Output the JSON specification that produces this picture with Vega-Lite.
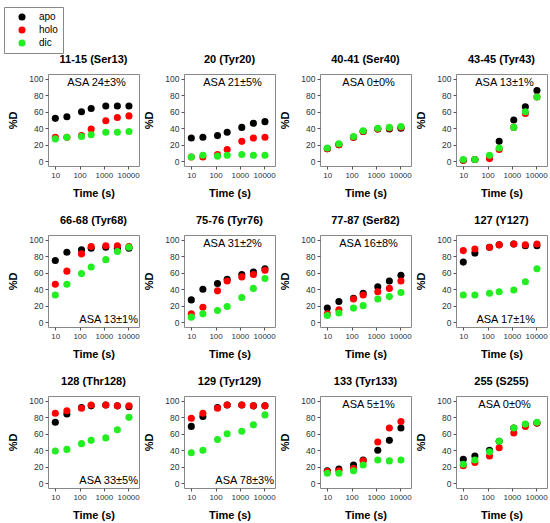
{
  "$schema": "https://vega.github.io/schema/vega-lite/v6.json",
  "background": "white",
  "padding": {"left": 3, "top": 6, "right": 5, "bottom": 3},
  "data": {
    "values": [
      {"p": "11-15 (Ser13)", "s": "apo", "t": 10, "d": 52}, {"p": "11-15 (Ser13)", "s": "apo", "t": 30, "d": 54}, {"p": "11-15 (Ser13)", "s": "apo", "t": 120, "d": 60}, {"p": "11-15 (Ser13)", "s": "apo", "t": 300, "d": 64}, {"p": "11-15 (Ser13)", "s": "apo", "t": 1200, "d": 67}, {"p": "11-15 (Ser13)", "s": "apo", "t": 3600, "d": 67}, {"p": "11-15 (Ser13)", "s": "apo", "t": 10800, "d": 67},
      {"p": "11-15 (Ser13)", "s": "holo", "t": 10, "d": 29}, {"p": "11-15 (Ser13)", "s": "holo", "t": 30, "d": 29}, {"p": "11-15 (Ser13)", "s": "holo", "t": 120, "d": 31}, {"p": "11-15 (Ser13)", "s": "holo", "t": 300, "d": 39}, {"p": "11-15 (Ser13)", "s": "holo", "t": 1200, "d": 49}, {"p": "11-15 (Ser13)", "s": "holo", "t": 3600, "d": 53}, {"p": "11-15 (Ser13)", "s": "holo", "t": 10800, "d": 55},
      {"p": "11-15 (Ser13)", "s": "dic", "t": 10, "d": 27}, {"p": "11-15 (Ser13)", "s": "dic", "t": 30, "d": 29}, {"p": "11-15 (Ser13)", "s": "dic", "t": 120, "d": 30}, {"p": "11-15 (Ser13)", "s": "dic", "t": 300, "d": 32}, {"p": "11-15 (Ser13)", "s": "dic", "t": 1200, "d": 35}, {"p": "11-15 (Ser13)", "s": "dic", "t": 3600, "d": 35}, {"p": "11-15 (Ser13)", "s": "dic", "t": 10800, "d": 36},

      {"p": "20 (Tyr20)", "s": "apo", "t": 10, "d": 28}, {"p": "20 (Tyr20)", "s": "apo", "t": 30, "d": 29}, {"p": "20 (Tyr20)", "s": "apo", "t": 120, "d": 31}, {"p": "20 (Tyr20)", "s": "apo", "t": 300, "d": 35}, {"p": "20 (Tyr20)", "s": "apo", "t": 1200, "d": 41}, {"p": "20 (Tyr20)", "s": "apo", "t": 3600, "d": 46}, {"p": "20 (Tyr20)", "s": "apo", "t": 10800, "d": 48},
      {"p": "20 (Tyr20)", "s": "holo", "t": 10, "d": 5}, {"p": "20 (Tyr20)", "s": "holo", "t": 30, "d": 5}, {"p": "20 (Tyr20)", "s": "holo", "t": 120, "d": 8}, {"p": "20 (Tyr20)", "s": "holo", "t": 300, "d": 14}, {"p": "20 (Tyr20)", "s": "holo", "t": 1200, "d": 24}, {"p": "20 (Tyr20)", "s": "holo", "t": 3600, "d": 28}, {"p": "20 (Tyr20)", "s": "holo", "t": 10800, "d": 29},
      {"p": "20 (Tyr20)", "s": "dic", "t": 10, "d": 5}, {"p": "20 (Tyr20)", "s": "dic", "t": 30, "d": 7}, {"p": "20 (Tyr20)", "s": "dic", "t": 120, "d": 6}, {"p": "20 (Tyr20)", "s": "dic", "t": 300, "d": 7}, {"p": "20 (Tyr20)", "s": "dic", "t": 1200, "d": 8}, {"p": "20 (Tyr20)", "s": "dic", "t": 3600, "d": 7}, {"p": "20 (Tyr20)", "s": "dic", "t": 10800, "d": 7},

      {"p": "40-41 (Ser40)", "s": "apo", "t": 10, "d": 15}, {"p": "40-41 (Ser40)", "s": "apo", "t": 30, "d": 20}, {"p": "40-41 (Ser40)", "s": "apo", "t": 120, "d": 29}, {"p": "40-41 (Ser40)", "s": "apo", "t": 300, "d": 36}, {"p": "40-41 (Ser40)", "s": "apo", "t": 1200, "d": 39}, {"p": "40-41 (Ser40)", "s": "apo", "t": 3600, "d": 39}, {"p": "40-41 (Ser40)", "s": "apo", "t": 10800, "d": 40},
      {"p": "40-41 (Ser40)", "s": "holo", "t": 10, "d": 15}, {"p": "40-41 (Ser40)", "s": "holo", "t": 30, "d": 20}, {"p": "40-41 (Ser40)", "s": "holo", "t": 120, "d": 29}, {"p": "40-41 (Ser40)", "s": "holo", "t": 300, "d": 36}, {"p": "40-41 (Ser40)", "s": "holo", "t": 1200, "d": 39}, {"p": "40-41 (Ser40)", "s": "holo", "t": 3600, "d": 40}, {"p": "40-41 (Ser40)", "s": "holo", "t": 10800, "d": 41},
      {"p": "40-41 (Ser40)", "s": "dic", "t": 10, "d": 16}, {"p": "40-41 (Ser40)", "s": "dic", "t": 30, "d": 21}, {"p": "40-41 (Ser40)", "s": "dic", "t": 120, "d": 30}, {"p": "40-41 (Ser40)", "s": "dic", "t": 300, "d": 37}, {"p": "40-41 (Ser40)", "s": "dic", "t": 1200, "d": 40}, {"p": "40-41 (Ser40)", "s": "dic", "t": 3600, "d": 41}, {"p": "40-41 (Ser40)", "s": "dic", "t": 10800, "d": 42},

      {"p": "43-45 (Tyr43)", "s": "apo", "t": 10, "d": 1}, {"p": "43-45 (Tyr43)", "s": "apo", "t": 30, "d": 2}, {"p": "43-45 (Tyr43)", "s": "apo", "t": 120, "d": 4}, {"p": "43-45 (Tyr43)", "s": "apo", "t": 300, "d": 24}, {"p": "43-45 (Tyr43)", "s": "apo", "t": 1200, "d": 50}, {"p": "43-45 (Tyr43)", "s": "apo", "t": 3600, "d": 66}, {"p": "43-45 (Tyr43)", "s": "apo", "t": 10800, "d": 86},
      {"p": "43-45 (Tyr43)", "s": "holo", "t": 10, "d": 1}, {"p": "43-45 (Tyr43)", "s": "holo", "t": 30, "d": 2}, {"p": "43-45 (Tyr43)", "s": "holo", "t": 120, "d": 3}, {"p": "43-45 (Tyr43)", "s": "holo", "t": 300, "d": 14}, {"p": "43-45 (Tyr43)", "s": "holo", "t": 1200, "d": 41}, {"p": "43-45 (Tyr43)", "s": "holo", "t": 3600, "d": 58}, {"p": "43-45 (Tyr43)", "s": "holo", "t": 10800, "d": 78},
      {"p": "43-45 (Tyr43)", "s": "dic", "t": 10, "d": 2}, {"p": "43-45 (Tyr43)", "s": "dic", "t": 30, "d": 2}, {"p": "43-45 (Tyr43)", "s": "dic", "t": 120, "d": 7}, {"p": "43-45 (Tyr43)", "s": "dic", "t": 300, "d": 16}, {"p": "43-45 (Tyr43)", "s": "dic", "t": 1200, "d": 41}, {"p": "43-45 (Tyr43)", "s": "dic", "t": 3600, "d": 60}, {"p": "43-45 (Tyr43)", "s": "dic", "t": 10800, "d": 78},

      {"p": "66-68 (Tyr68)", "s": "apo", "t": 10, "d": 75}, {"p": "66-68 (Tyr68)", "s": "apo", "t": 30, "d": 85}, {"p": "66-68 (Tyr68)", "s": "apo", "t": 120, "d": 88}, {"p": "66-68 (Tyr68)", "s": "apo", "t": 300, "d": 90}, {"p": "66-68 (Tyr68)", "s": "apo", "t": 1200, "d": 91}, {"p": "66-68 (Tyr68)", "s": "apo", "t": 3600, "d": 90}, {"p": "66-68 (Tyr68)", "s": "apo", "t": 10800, "d": 90},
      {"p": "66-68 (Tyr68)", "s": "holo", "t": 10, "d": 46}, {"p": "66-68 (Tyr68)", "s": "holo", "t": 30, "d": 62}, {"p": "66-68 (Tyr68)", "s": "holo", "t": 120, "d": 83}, {"p": "66-68 (Tyr68)", "s": "holo", "t": 300, "d": 92}, {"p": "66-68 (Tyr68)", "s": "holo", "t": 1200, "d": 93}, {"p": "66-68 (Tyr68)", "s": "holo", "t": 3600, "d": 93}, {"p": "66-68 (Tyr68)", "s": "holo", "t": 10800, "d": 92},
      {"p": "66-68 (Tyr68)", "s": "dic", "t": 10, "d": 33}, {"p": "66-68 (Tyr68)", "s": "dic", "t": 30, "d": 46}, {"p": "66-68 (Tyr68)", "s": "dic", "t": 120, "d": 59}, {"p": "66-68 (Tyr68)", "s": "dic", "t": 300, "d": 67}, {"p": "66-68 (Tyr68)", "s": "dic", "t": 1200, "d": 76}, {"p": "66-68 (Tyr68)", "s": "dic", "t": 3600, "d": 86}, {"p": "66-68 (Tyr68)", "s": "dic", "t": 10800, "d": 91},

      {"p": "75-76 (Tyr76)", "s": "apo", "t": 10, "d": 27}, {"p": "75-76 (Tyr76)", "s": "apo", "t": 30, "d": 40}, {"p": "75-76 (Tyr76)", "s": "apo", "t": 120, "d": 47}, {"p": "75-76 (Tyr76)", "s": "apo", "t": 300, "d": 52}, {"p": "75-76 (Tyr76)", "s": "apo", "t": 1200, "d": 58}, {"p": "75-76 (Tyr76)", "s": "apo", "t": 3600, "d": 61}, {"p": "75-76 (Tyr76)", "s": "apo", "t": 10800, "d": 65},
      {"p": "75-76 (Tyr76)", "s": "holo", "t": 10, "d": 10}, {"p": "75-76 (Tyr76)", "s": "holo", "t": 30, "d": 18}, {"p": "75-76 (Tyr76)", "s": "holo", "t": 120, "d": 38}, {"p": "75-76 (Tyr76)", "s": "holo", "t": 300, "d": 50}, {"p": "75-76 (Tyr76)", "s": "holo", "t": 1200, "d": 55}, {"p": "75-76 (Tyr76)", "s": "holo", "t": 3600, "d": 58}, {"p": "75-76 (Tyr76)", "s": "holo", "t": 10800, "d": 63},
      {"p": "75-76 (Tyr76)", "s": "dic", "t": 10, "d": 6}, {"p": "75-76 (Tyr76)", "s": "dic", "t": 30, "d": 10}, {"p": "75-76 (Tyr76)", "s": "dic", "t": 120, "d": 14}, {"p": "75-76 (Tyr76)", "s": "dic", "t": 300, "d": 19}, {"p": "75-76 (Tyr76)", "s": "dic", "t": 1200, "d": 30}, {"p": "75-76 (Tyr76)", "s": "dic", "t": 3600, "d": 41}, {"p": "75-76 (Tyr76)", "s": "dic", "t": 10800, "d": 53},

      {"p": "77-87 (Ser82)", "s": "apo", "t": 10, "d": 17}, {"p": "77-87 (Ser82)", "s": "apo", "t": 30, "d": 25}, {"p": "77-87 (Ser82)", "s": "apo", "t": 120, "d": 29}, {"p": "77-87 (Ser82)", "s": "apo", "t": 300, "d": 35}, {"p": "77-87 (Ser82)", "s": "apo", "t": 1200, "d": 43}, {"p": "77-87 (Ser82)", "s": "apo", "t": 3600, "d": 50}, {"p": "77-87 (Ser82)", "s": "apo", "t": 10800, "d": 57},
      {"p": "77-87 (Ser82)", "s": "holo", "t": 10, "d": 10}, {"p": "77-87 (Ser82)", "s": "holo", "t": 30, "d": 15}, {"p": "77-87 (Ser82)", "s": "holo", "t": 120, "d": 28}, {"p": "77-87 (Ser82)", "s": "holo", "t": 300, "d": 33}, {"p": "77-87 (Ser82)", "s": "holo", "t": 1200, "d": 37}, {"p": "77-87 (Ser82)", "s": "holo", "t": 3600, "d": 41}, {"p": "77-87 (Ser82)", "s": "holo", "t": 10800, "d": 50},
      {"p": "77-87 (Ser82)", "s": "dic", "t": 10, "d": 8}, {"p": "77-87 (Ser82)", "s": "dic", "t": 30, "d": 11}, {"p": "77-87 (Ser82)", "s": "dic", "t": 120, "d": 17}, {"p": "77-87 (Ser82)", "s": "dic", "t": 300, "d": 20}, {"p": "77-87 (Ser82)", "s": "dic", "t": 1200, "d": 28}, {"p": "77-87 (Ser82)", "s": "dic", "t": 3600, "d": 31}, {"p": "77-87 (Ser82)", "s": "dic", "t": 10800, "d": 36},

      {"p": "127 (Y127)", "s": "apo", "t": 10, "d": 73}, {"p": "127 (Y127)", "s": "apo", "t": 30, "d": 84}, {"p": "127 (Y127)", "s": "apo", "t": 120, "d": 91}, {"p": "127 (Y127)", "s": "apo", "t": 300, "d": 94}, {"p": "127 (Y127)", "s": "apo", "t": 1200, "d": 95}, {"p": "127 (Y127)", "s": "apo", "t": 3600, "d": 93}, {"p": "127 (Y127)", "s": "apo", "t": 10800, "d": 93},
      {"p": "127 (Y127)", "s": "holo", "t": 10, "d": 87}, {"p": "127 (Y127)", "s": "holo", "t": 30, "d": 89}, {"p": "127 (Y127)", "s": "holo", "t": 120, "d": 91}, {"p": "127 (Y127)", "s": "holo", "t": 300, "d": 94}, {"p": "127 (Y127)", "s": "holo", "t": 1200, "d": 95}, {"p": "127 (Y127)", "s": "holo", "t": 3600, "d": 94}, {"p": "127 (Y127)", "s": "holo", "t": 10800, "d": 95},
      {"p": "127 (Y127)", "s": "dic", "t": 10, "d": 33}, {"p": "127 (Y127)", "s": "dic", "t": 30, "d": 33}, {"p": "127 (Y127)", "s": "dic", "t": 120, "d": 35}, {"p": "127 (Y127)", "s": "dic", "t": 300, "d": 37}, {"p": "127 (Y127)", "s": "dic", "t": 1200, "d": 39}, {"p": "127 (Y127)", "s": "dic", "t": 3600, "d": 49}, {"p": "127 (Y127)", "s": "dic", "t": 10800, "d": 65},

      {"p": "128 (Thr128)", "s": "apo", "t": 10, "d": 74}, {"p": "128 (Thr128)", "s": "apo", "t": 30, "d": 84}, {"p": "128 (Thr128)", "s": "apo", "t": 120, "d": 92}, {"p": "128 (Thr128)", "s": "apo", "t": 300, "d": 94}, {"p": "128 (Thr128)", "s": "apo", "t": 1200, "d": 95}, {"p": "128 (Thr128)", "s": "apo", "t": 3600, "d": 94}, {"p": "128 (Thr128)", "s": "apo", "t": 10800, "d": 93},
      {"p": "128 (Thr128)", "s": "holo", "t": 10, "d": 85}, {"p": "128 (Thr128)", "s": "holo", "t": 30, "d": 88}, {"p": "128 (Thr128)", "s": "holo", "t": 120, "d": 91}, {"p": "128 (Thr128)", "s": "holo", "t": 300, "d": 95}, {"p": "128 (Thr128)", "s": "holo", "t": 1200, "d": 95}, {"p": "128 (Thr128)", "s": "holo", "t": 3600, "d": 94}, {"p": "128 (Thr128)", "s": "holo", "t": 10800, "d": 94},
      {"p": "128 (Thr128)", "s": "dic", "t": 10, "d": 39}, {"p": "128 (Thr128)", "s": "dic", "t": 30, "d": 41}, {"p": "128 (Thr128)", "s": "dic", "t": 120, "d": 48}, {"p": "128 (Thr128)", "s": "dic", "t": 300, "d": 52}, {"p": "128 (Thr128)", "s": "dic", "t": 1200, "d": 55}, {"p": "128 (Thr128)", "s": "dic", "t": 3600, "d": 65}, {"p": "128 (Thr128)", "s": "dic", "t": 10800, "d": 80},

      {"p": "129 (Tyr129)", "s": "apo", "t": 10, "d": 69}, {"p": "129 (Tyr129)", "s": "apo", "t": 30, "d": 81}, {"p": "129 (Tyr129)", "s": "apo", "t": 120, "d": 92}, {"p": "129 (Tyr129)", "s": "apo", "t": 300, "d": 95}, {"p": "129 (Tyr129)", "s": "apo", "t": 1200, "d": 95}, {"p": "129 (Tyr129)", "s": "apo", "t": 3600, "d": 94}, {"p": "129 (Tyr129)", "s": "apo", "t": 10800, "d": 94},
      {"p": "129 (Tyr129)", "s": "holo", "t": 10, "d": 79}, {"p": "129 (Tyr129)", "s": "holo", "t": 30, "d": 85}, {"p": "129 (Tyr129)", "s": "holo", "t": 120, "d": 91}, {"p": "129 (Tyr129)", "s": "holo", "t": 300, "d": 95}, {"p": "129 (Tyr129)", "s": "holo", "t": 1200, "d": 95}, {"p": "129 (Tyr129)", "s": "holo", "t": 3600, "d": 94}, {"p": "129 (Tyr129)", "s": "holo", "t": 10800, "d": 94},
      {"p": "129 (Tyr129)", "s": "dic", "t": 10, "d": 37}, {"p": "129 (Tyr129)", "s": "dic", "t": 30, "d": 40}, {"p": "129 (Tyr129)", "s": "dic", "t": 120, "d": 53}, {"p": "129 (Tyr129)", "s": "dic", "t": 300, "d": 60}, {"p": "129 (Tyr129)", "s": "dic", "t": 1200, "d": 63}, {"p": "129 (Tyr129)", "s": "dic", "t": 3600, "d": 71}, {"p": "129 (Tyr129)", "s": "dic", "t": 10800, "d": 83},

      {"p": "133 (Tyr133)", "s": "apo", "t": 10, "d": 15}, {"p": "133 (Tyr133)", "s": "apo", "t": 30, "d": 17}, {"p": "133 (Tyr133)", "s": "apo", "t": 120, "d": 22}, {"p": "133 (Tyr133)", "s": "apo", "t": 300, "d": 28}, {"p": "133 (Tyr133)", "s": "apo", "t": 1200, "d": 40}, {"p": "133 (Tyr133)", "s": "apo", "t": 3600, "d": 52}, {"p": "133 (Tyr133)", "s": "apo", "t": 10800, "d": 67},
      {"p": "133 (Tyr133)", "s": "holo", "t": 10, "d": 14}, {"p": "133 (Tyr133)", "s": "holo", "t": 30, "d": 15}, {"p": "133 (Tyr133)", "s": "holo", "t": 120, "d": 18}, {"p": "133 (Tyr133)", "s": "holo", "t": 300, "d": 27}, {"p": "133 (Tyr133)", "s": "holo", "t": 1200, "d": 50}, {"p": "133 (Tyr133)", "s": "holo", "t": 3600, "d": 67}, {"p": "133 (Tyr133)", "s": "holo", "t": 10800, "d": 75},
      {"p": "133 (Tyr133)", "s": "dic", "t": 10, "d": 12}, {"p": "133 (Tyr133)", "s": "dic", "t": 30, "d": 12}, {"p": "133 (Tyr133)", "s": "dic", "t": 120, "d": 15}, {"p": "133 (Tyr133)", "s": "dic", "t": 300, "d": 22}, {"p": "133 (Tyr133)", "s": "dic", "t": 1200, "d": 28}, {"p": "133 (Tyr133)", "s": "dic", "t": 3600, "d": 27}, {"p": "133 (Tyr133)", "s": "dic", "t": 10800, "d": 28},

      {"p": "255 (S255)", "s": "apo", "t": 10, "d": 29}, {"p": "255 (S255)", "s": "apo", "t": 30, "d": 33}, {"p": "255 (S255)", "s": "apo", "t": 120, "d": 40}, {"p": "255 (S255)", "s": "apo", "t": 300, "d": 51}, {"p": "255 (S255)", "s": "apo", "t": 1200, "d": 67}, {"p": "255 (S255)", "s": "apo", "t": 3600, "d": 71}, {"p": "255 (S255)", "s": "apo", "t": 10800, "d": 73},
      {"p": "255 (S255)", "s": "holo", "t": 10, "d": 21}, {"p": "255 (S255)", "s": "holo", "t": 30, "d": 25}, {"p": "255 (S255)", "s": "holo", "t": 120, "d": 33}, {"p": "255 (S255)", "s": "holo", "t": 300, "d": 43}, {"p": "255 (S255)", "s": "holo", "t": 1200, "d": 61}, {"p": "255 (S255)", "s": "holo", "t": 3600, "d": 69}, {"p": "255 (S255)", "s": "holo", "t": 10800, "d": 73},
      {"p": "255 (S255)", "s": "dic", "t": 10, "d": 23}, {"p": "255 (S255)", "s": "dic", "t": 30, "d": 28}, {"p": "255 (S255)", "s": "dic", "t": 120, "d": 38}, {"p": "255 (S255)", "s": "dic", "t": 300, "d": 51}, {"p": "255 (S255)", "s": "dic", "t": 1200, "d": 67}, {"p": "255 (S255)", "s": "dic", "t": 3600, "d": 72}, {"p": "255 (S255)", "s": "dic", "t": 10800, "d": 74},

      {"p": "11-15 (Ser13)", "asa": "ASA 24±3%", "pl": "top"},
      {"p": "20 (Tyr20)", "asa": "ASA 21±5%", "pl": "top"},
      {"p": "40-41 (Ser40)", "asa": "ASA 0±0%", "pl": "top"},
      {"p": "43-45 (Tyr43)", "asa": "ASA 13±1%", "pl": "top"},
      {"p": "66-68 (Tyr68)", "asa": "ASA 13±1%", "pl": "bottomright"},
      {"p": "75-76 (Tyr76)", "asa": "ASA 31±2%", "pl": "top"},
      {"p": "77-87 (Ser82)", "asa": "ASA 16±8%", "pl": "top"},
      {"p": "127 (Y127)", "asa": "ASA 17±1%", "pl": "bottom"},
      {"p": "128 (Thr128)", "asa": "ASA 33±5%", "pl": "bottomright"},
      {"p": "129 (Tyr129)", "asa": "ASA 78±3%", "pl": "bottomright"},
      {"p": "133 (Tyr133)", "asa": "ASA 5±1%", "pl": "top"},
      {"p": "255 (S255)", "asa": "ASA 0±0%", "pl": "top"}
    ]
  },
  "facet": {
    "field": "p",
    "type": "nominal",
    "title": null,
    "sort": ["11-15 (Ser13)", "20 (Tyr20)", "40-41 (Ser40)", "43-45 (Tyr43)", "66-68 (Tyr68)", "75-76 (Tyr76)", "77-87 (Ser82)", "127 (Y127)", "128 (Thr128)", "129 (Tyr129)", "133 (Tyr133)", "255 (S255)"],
    "header": {"labelFont": "Arial", "labelFontSize": 11, "labelFontWeight": "bold", "labelColor": "black", "labelPadding": 9}
  },
  "columns": 4,
  "spacing": {"row": 15, "column": 3},
  "resolve": {"axis": {"x": "independent", "y": "independent"}},
  "spec": {
    "width": 91,
    "height": 92,
    "layer": [
      {
        "transform": [{"filter": "isValid(datum.d)"}],
        "mark": {"type": "point", "filled": true, "size": 50, "opacity": 1},
        "encoding": {
          "x": {
            "field": "t",
            "type": "quantitative",
            "scale": {"type": "log", "domain": [5, 28000]},
            "axis": {"values": [10, 100, 1000, 10000], "format": "d", "title": "Time (s)", "labelFontSize": 8}
          },
          "y": {
            "field": "d",
            "type": "quantitative",
            "scale": {"domain": [-6, 106]},
            "axis": {"values": [0, 20, 40, 60, 80, 100], "title": "%D"}
          },
          "color": {
            "field": "s",
            "type": "nominal",
            "scale": {"domain": ["apo", "holo", "dic"], "range": ["#000000", "#ff0000", "#22ee22"]},
            "legend": {
              "title": null,
              "orient": "none",
              "legendX": -44,
              "legendY": -67,
              "direction": "vertical",
              "symbolType": "circle",
              "symbolSize": 50,
              "symbolOffset": 8,
              "labelFont": "Arial",
              "labelFontSize": 10,
              "labelColor": "black",
              "padding": 5,
              "rowPadding": 3,
              "labelOffset": 12,
              "strokeColor": "#888888",
              "fillColor": "white"
            }
          }
        }
      },
      {
        "transform": [{"filter": "datum.pl == 'top'"}],
        "mark": {"type": "text", "font": "Arial", "fontSize": 11, "color": "black", "align": "center", "baseline": "middle"},
        "encoding": {
          "x": {"datum": 500, "type": "quantitative", "scale": {"type": "log", "domain": [5, 28000]}, "axis": {"values": [10, 100, 1000, 10000], "format": "d", "title": "Time (s)", "labelFontSize": 8}},
          "y": {"datum": 95, "type": "quantitative", "scale": {"domain": [-6, 106]}, "axis": {"values": [0, 20, 40, 60, 80, 100], "title": "%D"}},
          "text": {"field": "asa"}
        }
      },
      {
        "transform": [{"filter": "datum.pl == 'bottom'"}],
        "mark": {"type": "text", "font": "Arial", "fontSize": 11, "color": "black", "align": "center", "baseline": "middle"},
        "encoding": {
          "x": {"datum": 560, "type": "quantitative", "scale": {"type": "log", "domain": [5, 28000]}, "axis": {"values": [10, 100, 1000, 10000], "format": "d", "title": "Time (s)", "labelFontSize": 8}},
          "y": {"datum": 3, "type": "quantitative", "scale": {"domain": [-6, 106]}, "axis": {"values": [0, 20, 40, 60, 80, 100], "title": "%D"}},
          "text": {"field": "asa"}
        }
      },
      {
        "transform": [{"filter": "datum.pl == 'bottomright'"}],
        "mark": {"type": "text", "font": "Arial", "fontSize": 11, "color": "black", "align": "right", "baseline": "middle", "dx": -1},
        "encoding": {
          "x": {"datum": 28000, "type": "quantitative", "scale": {"type": "log", "domain": [5, 28000]}, "axis": {"values": [10, 100, 1000, 10000], "format": "d", "title": "Time (s)", "labelFontSize": 8}},
          "y": {"datum": 3, "type": "quantitative", "scale": {"domain": [-6, 106]}, "axis": {"values": [0, 20, 40, 60, 80, 100], "title": "%D"}},
          "text": {"field": "asa"}
        }
      }
    ]
  },
  "config": {
    "view": {"stroke": "#888888", "strokeWidth": 1},
    "legend": {"strokeColor": "#888888"},
    "axis": {
      "grid": false,
      "domain": false,
      "labelFont": "Arial",
      "labelFontSize": 8.5,
      "labelColor": "#333333",
      "labelOverlap": false,
      "labelFlush": false,
      "labelBound": false,
      "tickColor": "#555555",
      "tickSize": 3,
      "labelPadding": 2,
      "titleFont": "Arial",
      "titleFontSize": 11,
      "titleFontWeight": "bold",
      "titleColor": "black"
    },
    "axisX": {"titlePadding": 8, "labelPadding": 2},
    "axisY": {"titlePadding": 10}
  }
}
